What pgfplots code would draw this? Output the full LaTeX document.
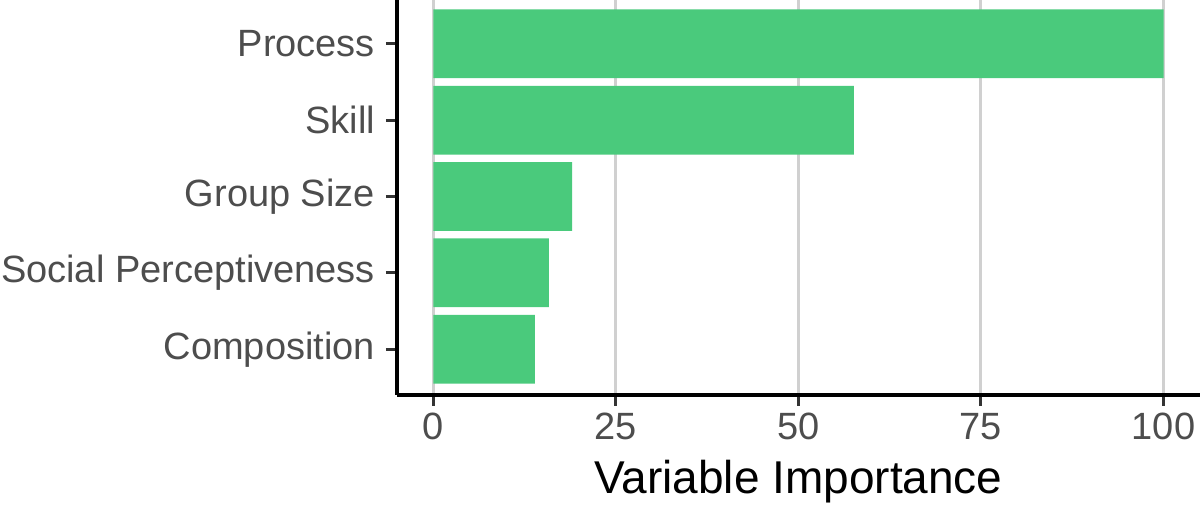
\documentclass[border=0pt]{standalone}
\usepackage{fontspec}
\setmainfont{Liberation Sans}
\usepackage{pgfplots}
\pgfplotsset{compat=1.18}

\definecolor{barfill}{HTML}{4ACA7C}
\definecolor{gridgray}{HTML}{D0D0D0}
\definecolor{tickgray}{HTML}{4D4D4D}
\definecolor{tickline}{HTML}{333333}

\begin{document}
\begin{tikzpicture}
  \begin{axis}[
    name=ax,
    scale only axis,
    width=401.5pt, height=198.5pt,
    xbar, bar width=0.9,
    xmin=-5, xmax=105,
    ymin=0.4, ymax=5.6,
    axis x line*=bottom, axis y line*=left,
    axis line style={black, line width=1.6pt, -},
    xtick={0,25,50,75,100},
    ytick={1,2,3,4,5},
    yticklabels={Composition, Social Perceptiveness, Group Size, Skill, Process},
    tick align=outside,
    major tick length=5.5pt,
    tick style={tickline, line width=1.5pt},
    xmajorgrids,
    grid style={gridgray, line width=1.5pt},
    ticklabel style={font=\fontsize{19}{21}\selectfont, text=tickgray},
    yticklabel style={xshift=-2pt},
    /pgf/number format/assume math mode=true,
    xlabel={Variable Importance},
    xlabel style={font=\fontsize{23}{26}\selectfont, text=black, yshift=-3pt},
  ]
    \addplot[draw=none, fill=barfill] coordinates {
      (13.9,1) (15.8,2) (19.0,3) (57.6,4) (100,5)
    };
  \end{axis}
  \pgfresetboundingbox
  \path[use as bounding box] ([xshift=-198.5pt,yshift=-56pt]ax.south west) rectangle ([yshift=-1pt]ax.north east);
\end{tikzpicture}
\end{document}
